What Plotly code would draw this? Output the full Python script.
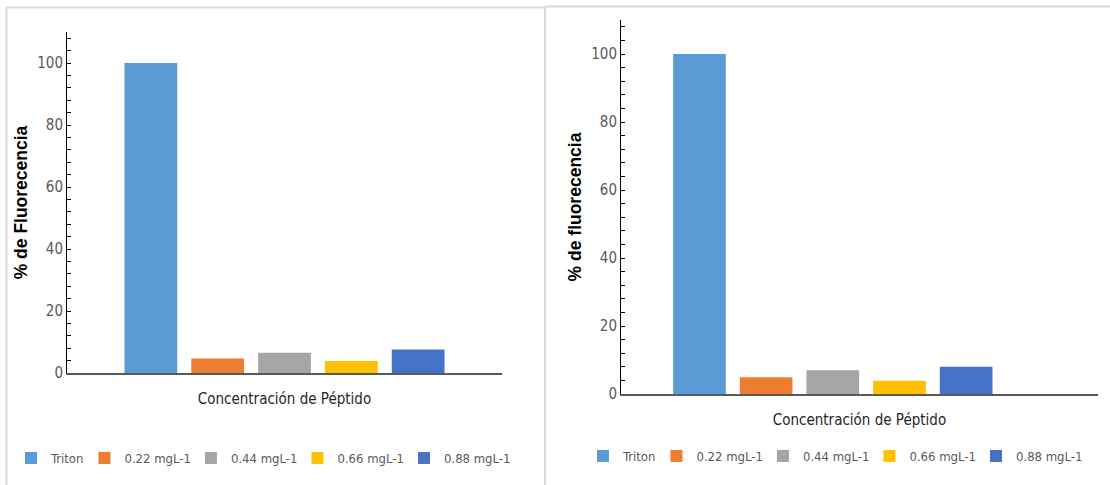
import plotly.graph_objects as go

# Fluorescence (%) per treatment, two experiments
series_names = ["Triton", "0.22 mgL-1", "0.44 mgL-1", "0.66 mgL-1", "0.88 mgL-1"]
colors = ["#5B9BD5", "#ED7D31", "#A5A5A5", "#FFC000", "#4472C4"]
category = ["Concentración de Péptido"]
values_left = [100, 4.7, 6.5, 3.9, 7.6]
values_right = [100, 4.9, 7.0, 3.9, 8.0]
y_ticks = [0, 20, 40, 60, 80, 100]

W, H = 1110, 485


def px(x):
    return x / W


def py(y):
    return 1 - y / H


narrow = ("Liberation Sans Narrow, DejaVu Sans Condensed, "
          "Arial Narrow, Liberation Sans, sans-serif")
tick_font = dict(family=narrow, size=15, color="#595959")
title_font_y = dict(family="Liberation Sans, Arial, sans-serif", size=17.5, color="#000000")
title_font_x = dict(family=narrow, size=15, color="#262626")

fig = go.Figure()

for i, name in enumerate(series_names):
    fig.add_trace(go.Bar(x=category, y=[values_left[i]], name=name,
                         marker=dict(color=colors[i], line=dict(width=0)),
                         xaxis="x", yaxis="y", legend="legend"))
for i, name in enumerate(series_names):
    fig.add_trace(go.Bar(x=category, y=[values_right[i]], name=name,
                         marker=dict(color=colors[i], line=dict(width=0)),
                         xaxis="x2", yaxis="y2", legend="legend2"))


def yaxis_cfg(domain, anchor, title):
    return dict(domain=domain, anchor=anchor, range=[0, 110],
                tickvals=y_ticks, ticks="inside", ticklen=4, tickcolor="#000000",
                minor=dict(dtick=4, tick0=0, ticks="inside", ticklen=4, tickcolor="#000000"),
                showline=True, linecolor="#000000", linewidth=1,
                showgrid=False, zeroline=False, tickfont=tick_font,
                title=dict(text=f"<b>{title}</b>", font=title_font_y, standoff=5),
                automargin=False)


def xaxis_cfg(domain, anchor, rng):
    return dict(domain=domain, anchor=anchor, range=rng, type="category",
                showticklabels=False, ticks="", showline=True, linecolor="#595959",
                linewidth=2, showgrid=False, zeroline=False,
                title=dict(text="Concentración de Péptido", font=title_font_x, standoff=19),
                automargin=False)


legend_common = dict(orientation="h", xanchor="center", yanchor="middle",
                     xref="paper", yref="paper", indentation=-5,
                     font=dict(family=narrow, size=13, color="#595959"),
                     bgcolor="rgba(0,0,0,0)", itemclick=False, tracegroupgap=0)

border = "#D9D9D9"
shapes = [
    dict(type="line", xref="paper", yref="paper", x0=px(6.5), x1=px(6.5), y0=py(7), y1=py(485),
         line=dict(color=border, width=2)),
    dict(type="line", xref="paper", yref="paper", x0=px(6.5), x1=px(545), y0=py(7.5), y1=py(7.5),
         line=dict(color=border, width=2)),
    dict(type="line", xref="paper", yref="paper", x0=px(545), x1=px(545), y0=py(6), y1=py(485),
         line=dict(color=border, width=2)),
    dict(type="line", xref="paper", yref="paper", x0=px(545), x1=px(1110), y0=py(6.5), y1=py(6.5),
         line=dict(color=border, width=2)),
]

fig.update_layout(
    width=W, height=H,
    margin=dict(l=0, r=0, t=0, b=0, autoexpand=False),
    paper_bgcolor="white", plot_bgcolor="white",
    barmode="group", bargap=0.232, bargroupgap=0.21,
    xaxis=xaxis_cfg([px(67), px(502)], "y", [-0.5, 0.5]),
    yaxis=yaxis_cfg([py(373), py(32)], "x", "% de Fluorecencia"),
    xaxis2=xaxis_cfg([px(621), px(1098)], "y2", [-0.488, 0.611]),
    yaxis2=yaxis_cfg([py(394), py(20)], "x2", "% de fluorecencia"),
    legend=dict(x=px(266), y=py(458), **legend_common),
    legend2=dict(x=px(838), y=py(456), **legend_common),
    shapes=shapes,
    showlegend=True,
)

fig.write_html("out.html")
